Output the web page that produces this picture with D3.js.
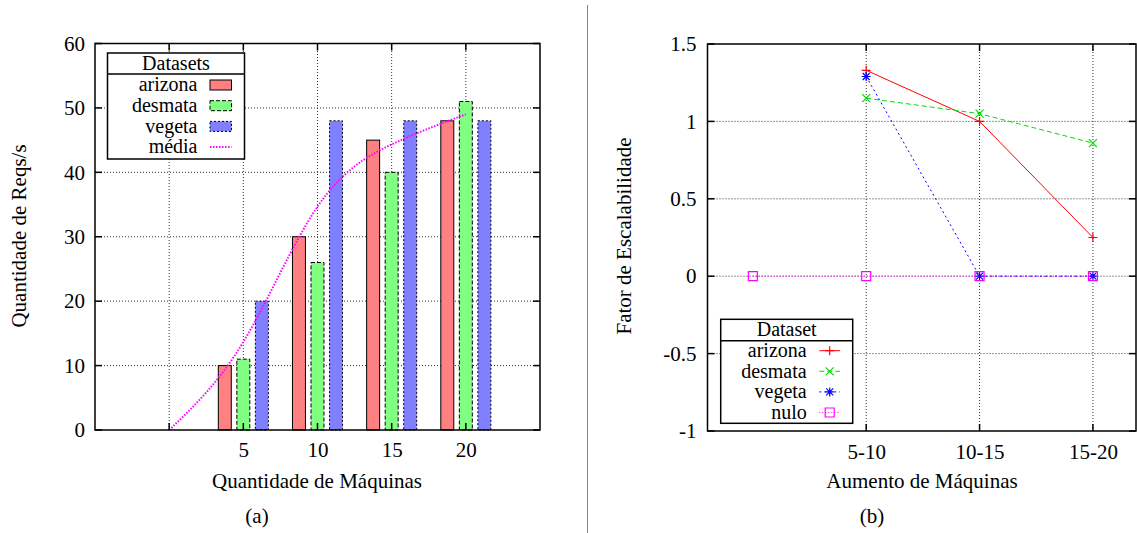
<!DOCTYPE html>
<html><head><meta charset="utf-8">
<script src="https://cdn.jsdelivr.net/npm/d3@7"></script>
<style>
body{margin:0;background:#fff}
svg{display:block}
text{font-family:"Liberation Serif","Times New Roman",serif;font-size:21px;fill:#000}
text.leg{font-size:20px}
</style>
</head><body><svg id="c" width="1137" height="533"></svg>
<script>
// ---- data: chart (a)
const machines = [5, 10, 15, 20];
const arizona = [10, 30, 45, 48];
const desmata = [11, 26, 40, 51];
const vegeta = [20, 48, 48, 48];
const mediaX = [0, 5, 10, 15, 20];
const mediaY = [0, 13.67, 34.67, 44.33, 49];
const yTicksA = [0, 10, 20, 30, 40, 50, 60];
const xGridA = [0, 5, 10, 15, 20];

// ---- data: chart (b)
const increments = ["", "5-10", "10-15", "15-20"];
const arizonaF = [null, 1.33, 1.0, 0.25];
const desmataF = [null, 1.15, 1.05, 0.86];
const vegetaF = [null, 1.29, 0, 0];
const nuloF = [0, 0, 0, 0];
const yTicksB = [-1, -0.5, 0, 0.5, 1, 1.5];

const svg = d3.select("#c");
const GRID = "#333", GDASH = "1,2";

// separator
svg.append("line").attr("x1",587.5).attr("x2",587.5).attr("y1",5).attr("y2",533)
  .attr("stroke","#888").attr("stroke-width",1);

// ================= Chart (a) =================
const xA = d3.scaleLinear().domain([-5, 25]).range([95, 540]);
const yA = d3.scaleLinear().domain([0, 60]).range([430, 43.5]);
const gA = svg.append("g");

gA.selectAll(".gy").data(yTicksA.slice(1, -1)).join("line")
  .attr("x1", xA(-5)).attr("x2", xA(25)).attr("y1", d => yA(d)).attr("y2", d => yA(d))
  .attr("stroke", GRID).attr("stroke-dasharray", GDASH);
gA.selectAll(".gx").data(xGridA).join("line")
  .attr("x1", d => xA(d)).attr("x2", d => xA(d)).attr("y1", yA(0)).attr("y2", yA(60))
  .attr("stroke", GRID).attr("stroke-dasharray", GDASH);

const seriesA = [
  {name: "arizona", values: arizona, fill: "#ff8080", dash: null, off: -1.25},
  {name: "desmata", values: desmata, fill: "#80ff80", dash: "4,2", off: 0},
  {name: "vegeta", values: vegeta, fill: "#8080ff", dash: "2,2", off: 1.25}
];
const bw = 0.875;
seriesA.forEach(s => {
  gA.selectAll(null).data(s.values).join("rect")
    .attr("x", (d, i) => xA(machines[i] + s.off - bw / 2))
    .attr("width", xA(bw) - xA(0))
    .attr("y", d => yA(d))
    .attr("height", d => yA(0) - yA(d))
    .attr("fill", s.fill).attr("stroke", "#000").attr("stroke-width", 1)
    .attr("stroke-dasharray", s.dash);
});

const mediaLine = d3.line().x(d => xA(d[0])).y(d => yA(d[1])).curve(d3.curveNatural);
gA.append("path").datum(mediaX.map((x, i) => [x, mediaY[i]]))
  .attr("d", mediaLine).attr("fill", "none").attr("stroke", "#ff00ff")
  .attr("stroke-width", 2).attr("stroke-dasharray", "1.5,1.5");

// frame & ticks
gA.append("rect").attr("x", xA(-5)).attr("y", yA(60)).attr("width", xA(25) - xA(-5))
  .attr("height", yA(0) - yA(60)).attr("fill", "none").attr("stroke", "#000").attr("stroke-width", 1.5);
yTicksA.forEach(t => {
  gA.append("line").attr("x1", xA(-5)).attr("x2", xA(-5) + 7).attr("y1", yA(t)).attr("y2", yA(t)).attr("stroke", "#000").attr("stroke-width", 1.5);
  gA.append("line").attr("x1", xA(25)).attr("x2", xA(25) - 7).attr("y1", yA(t)).attr("y2", yA(t)).attr("stroke", "#000").attr("stroke-width", 1.5);
});
xGridA.forEach(t => {
  gA.append("line").attr("x1", xA(t)).attr("x2", xA(t)).attr("y1", yA(0)).attr("y2", yA(0) - 7).attr("stroke", "#000").attr("stroke-width", 1.5);
  gA.append("line").attr("x1", xA(t)).attr("x2", xA(t)).attr("y1", yA(60)).attr("y2", yA(60) + 7).attr("stroke", "#000").attr("stroke-width", 1.5);
});

const axYA = gA.append("g").attr("transform", `translate(${xA(-5)},0)`)
  .call(d3.axisLeft(yA).tickValues(yTicksA).tickSize(0).tickPadding(10).tickFormat(d3.format("d")));
const axXA = gA.append("g").attr("transform", `translate(0,${yA(0)})`)
  .call(d3.axisBottom(xA).tickValues(machines).tickSize(0).tickPadding(12).tickFormat(d3.format("d")));
[axYA, axXA].forEach(a => {
  a.select(".domain").remove();
  a.selectAll("text").style("fill", "#000");
  a.attr("font-family", null).attr("font-size", null);
});

gA.append("text").attr("x", 317).attr("y", 488).attr("text-anchor", "middle").text("Quantidade de Máquinas");
gA.append("text").attr("x", 257).attr("y", 523).attr("text-anchor", "middle").text("(a)");
gA.append("text").attr("transform", "translate(26,236) rotate(-90)").attr("text-anchor", "middle").text("Quantidade de Reqs/s");

// legend (a)
const lgA = gA.append("g");
lgA.append("rect").attr("x", 107.5).attr("y", 53).attr("width", 137).attr("height", 106)
  .attr("fill", "#fff").attr("stroke", "#000").attr("stroke-width", 1.5);
lgA.append("line").attr("x1", 107.5).attr("x2", 244.5).attr("y1", 74).attr("y2", 74).attr("stroke", "#000").attr("stroke-width", 1.5);
lgA.append("text").attr("class", "leg").attr("x", 176).attr("y", 70).attr("text-anchor", "middle").text("Datasets");
const legA = seriesA.map(s => ({name: s.name, fill: s.fill, dash: s.dash, type: "box"}))
  .concat([{name: "média", type: "line"}]);
legA.forEach((s, i) => {
  const cy = 85 + i * 20.7;
  lgA.append("text").attr("class", "leg").attr("x", 197.5).attr("y", cy + 6.3).attr("text-anchor", "end").text(s.name);
  if (s.type === "box") {
    lgA.append("rect").attr("x", 210).attr("y", cy - 5).attr("width", 21.5).attr("height", 10)
      .attr("fill", s.fill).attr("stroke", "#000").attr("stroke-width", 1).attr("stroke-dasharray", s.dash);
  } else {
    lgA.append("line").attr("x1", 210).attr("x2", 231.5).attr("y1", cy).attr("y2", cy)
      .attr("stroke", "#ff00ff").attr("stroke-width", 2).attr("stroke-dasharray", "1.5,1.5");
  }
});

// ================= Chart (b) =================
const xB = d3.scaleLinear().domain([-0.4, 3.38]).range([707.5, 1136]);
const yB = d3.scaleLinear().domain([-1, 1.5]).range([431, 44]);
const gB = svg.append("g");
const catIdx = [1, 2, 3];

gB.selectAll(".gy").data(yTicksB.slice(1, -1)).join("line")
  .attr("x1", xB(-0.4)).attr("x2", xB(3.38)).attr("y1", d => yB(d)).attr("y2", d => yB(d))
  .attr("stroke", GRID).attr("stroke-dasharray", GDASH);
gB.selectAll(".gx").data(catIdx).join("line")
  .attr("x1", d => xB(d)).attr("x2", d => xB(d)).attr("y1", yB(-1)).attr("y2", yB(1.5))
  .attr("stroke", GRID).attr("stroke-dasharray", GDASH);

const S = 4.5;
const markers = {
  plus: `M${-S},0H${S}M0,${-S}V${S}`,
  cross: `M${-S + 0.5},${-S + 0.5}L${S - 0.5},${S - 0.5}M${-S + 0.5},${S - 0.5}L${S - 0.5},${-S + 0.5}`,
  star: `M${-S},0H${S}M0,${-S}V${S}M${-S + 1},${-S + 1}L${S - 1},${S - 1}M${-S + 1},${S - 1}L${S - 1},${-S + 1}`,
  square: `M${-S},${-S}H${S}V${S}H${-S}Z`
};
const seriesB = [
  {name: "arizona", values: arizonaF, color: "#ff0000", dash: null, marker: "plus"},
  {name: "desmata", values: desmataF, color: "#00dd00", dash: "5,3", marker: "cross"},
  {name: "vegeta", values: vegetaF, color: "#0000ff", dash: "2,3", marker: "star"},
  {name: "nulo", values: nuloF, color: "#ff00ff", dash: "1,2", marker: "square"}
];
const lineB = d3.line().defined(d => d[1] !== null).x(d => xB(d[0])).y(d => yB(d[1]));
seriesB.forEach(s => {
  const pts = s.values.map((v, i) => [i, v]);
  gB.append("path").datum(pts).attr("d", lineB).attr("fill", "none")
    .attr("stroke", s.color).attr("stroke-width", 1).attr("stroke-dasharray", s.dash);
  gB.selectAll(null).data(pts.filter(p => p[1] !== null)).join("path")
    .attr("transform", d => `translate(${xB(d[0])},${yB(d[1])})`)
    .attr("d", markers[s.marker]).attr("fill", "none").attr("stroke", s.color).attr("stroke-width", 1.2);
});

gB.append("rect").attr("x", xB(-0.4)).attr("y", yB(1.5)).attr("width", xB(3.38) - xB(-0.4))
  .attr("height", yB(-1) - yB(1.5)).attr("fill", "none").attr("stroke", "#000").attr("stroke-width", 1.5);
yTicksB.forEach(t => {
  gB.append("line").attr("x1", xB(-0.4)).attr("x2", xB(-0.4) + 7).attr("y1", yB(t)).attr("y2", yB(t)).attr("stroke", "#000").attr("stroke-width", 1.5);
  gB.append("line").attr("x1", xB(3.38)).attr("x2", xB(3.38) - 7).attr("y1", yB(t)).attr("y2", yB(t)).attr("stroke", "#000").attr("stroke-width", 1.5);
});
catIdx.forEach(t => {
  gB.append("line").attr("x1", xB(t)).attr("x2", xB(t)).attr("y1", yB(-1)).attr("y2", yB(-1) - 7).attr("stroke", "#000").attr("stroke-width", 1.5);
  gB.append("line").attr("x1", xB(t)).attr("x2", xB(t)).attr("y1", yB(1.5)).attr("y2", yB(1.5) + 7).attr("stroke", "#000").attr("stroke-width", 1.5);
});

const axYB = gB.append("g").attr("transform", `translate(${xB(-0.4)},0)`)
  .call(d3.axisLeft(yB).tickValues(yTicksB).tickSize(0).tickPadding(11).tickFormat(d => String(d)));
const axXB = gB.append("g").attr("transform", `translate(0,${yB(-1)})`)
  .call(d3.axisBottom(xB).tickValues(catIdx).tickSize(0).tickPadding(13).tickFormat(i => increments[i]));
[axYB, axXB].forEach(a => {
  a.select(".domain").remove();
  a.selectAll("text").style("fill", "#000");
  a.attr("font-family", null).attr("font-size", null);
});

gB.append("text").attr("x", 922).attr("y", 488).attr("text-anchor", "middle").text("Aumento de Máquinas");
gB.append("text").attr("x", 872).attr("y", 523).attr("text-anchor", "middle").text("(b)");
gB.append("text").attr("transform", "translate(631,236) rotate(-90)").attr("text-anchor", "middle").text("Fator de Escalabilidade");

// legend (b)
const lgB = gB.append("g");
lgB.append("rect").attr("x", 720.7).attr("y", 319.3).attr("width", 132).attr("height", 104)
  .attr("fill", "#fff").attr("stroke", "#000").attr("stroke-width", 1.5);
lgB.append("line").attr("x1", 720.7).attr("x2", 852.7).attr("y1", 340.7).attr("y2", 340.7).attr("stroke", "#000").attr("stroke-width", 1.5);
lgB.append("text").attr("class", "leg").attr("x", 786.7).attr("y", 336).attr("text-anchor", "middle").text("Dataset");
seriesB.forEach((s, i) => {
  const cy = 350.7 + i * 20.6;
  lgB.append("text").attr("class", "leg").attr("x", 806.7).attr("y", cy + 6.3).attr("text-anchor", "end").text(s.name);
  lgB.append("line").attr("x1", 819.3).attr("x2", 840).attr("y1", cy).attr("y2", cy)
    .attr("stroke", s.color).attr("stroke-width", 1).attr("stroke-dasharray", s.dash);
  lgB.append("path").attr("transform", `translate(829.7,${cy})`).attr("d", markers[s.marker])
    .attr("fill", "none").attr("stroke", s.color).attr("stroke-width", 1.2);
});
</script>
</body></html>
